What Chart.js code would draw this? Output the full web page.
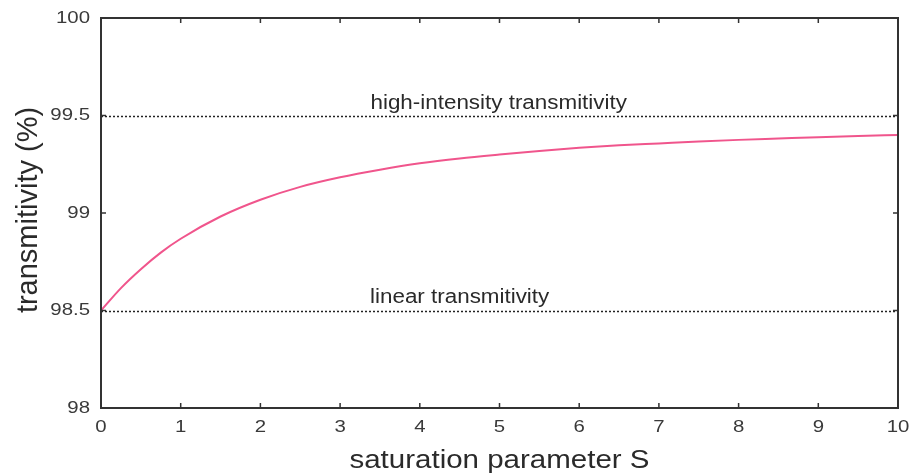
<!DOCTYPE html>
<html>
<head>
<meta charset="utf-8">
<script src="https://cdn.jsdelivr.net/npm/chart.js@4.4.1/dist/chart.umd.min.js"></script>
<style>
html,body{margin:0;padding:0;background:#fff;}
#wrap{width:910px;height:476px;position:relative;}
</style>
</head>
<body>
<div id="wrap"><canvas id="c" width="910" height="476"></canvas></div>
<script>
// Data
const saturationS = [0, 0.25, 0.5, 0.75, 1, 1.5, 2, 2.5, 3, 3.5, 4, 4.5, 5, 5.5, 6, 6.5, 7, 7.5, 8, 8.5, 9, 9.5, 10];
const transmitivity = [98.50, 98.615, 98.712, 98.797, 98.868, 98.982, 99.068, 99.134, 99.183, 99.222, 99.255, 99.28, 99.30, 99.318, 99.334, 99.347, 99.357, 99.367, 99.375, 99.382, 99.389, 99.395, 99.40];
const highIntensityLevel = 99.5;
const linearLevel = 98.5;
const referenceLabels = ["high-intensity transmitivity", "linear transmitivity"];
const referenceLabelX = [4.99, 4.50];
const xTicks = [0, 1, 2, 3, 4, 5, 6, 7, 8, 9, 10];
const yTicks = [98, 98.5, 99, 99.5, 100];
const yTickLabels = ["98", "98.5", "99", "99.5", "100"];
const xTitle = "saturation parameter S";
const yTitle = "transmitivity (%)";

const FONT = "'Liberation Sans', Arial, sans-serif";

function stretchedText(ctx, text, x, y, size, sx, align, baseline) {
  ctx.save();
  ctx.font = size + 'px ' + FONT;
  ctx.textAlign = align;
  ctx.textBaseline = baseline;
  ctx.translate(x, y);
  ctx.scale(sx, 1);
  ctx.fillText(text, 0, 0);
  ctx.restore();
}

const boxPlugin = {
  id: 'boxPlugin',
  afterDatasetsDraw(chart) {
    const {ctx, chartArea: a, scales: {x, y}} = chart;
    ctx.save();
    // reference dotted lines
    ctx.strokeStyle = '#222';
    ctx.lineWidth = 1.5;
    ctx.setLineDash([2, 2]);
    [highIntensityLevel, linearLevel].forEach(v => {
      const py = Math.round(y.getPixelForValue(v)) + 0.5;
      ctx.beginPath();
      ctx.moveTo(a.left, py);
      ctx.lineTo(a.right, py);
      ctx.stroke();
    });
    ctx.setLineDash([]);
    ctx.fillStyle = '#2a2a2a';
    // labels above reference lines
    stretchedText(ctx, referenceLabels[0], x.getPixelForValue(referenceLabelX[0]), y.getPixelForValue(highIntensityLevel) - 7, 20, 1.12, 'center', 'alphabetic');
    stretchedText(ctx, referenceLabels[1], x.getPixelForValue(referenceLabelX[1]), y.getPixelForValue(linearLevel) - 8, 20, 1.12, 'center', 'alphabetic');
    // frame
    ctx.strokeStyle = '#333';
    ctx.lineWidth = 2;
    ctx.strokeRect(a.left, a.top, a.right - a.left, a.bottom - a.top);
    // inward ticks
    ctx.lineWidth = 1.5;
    xTicks.forEach(v => {
      const px = x.getPixelForValue(v);
      ctx.beginPath();
      ctx.moveTo(px, a.bottom); ctx.lineTo(px, a.bottom - 5);
      ctx.moveTo(px, a.top); ctx.lineTo(px, a.top + 5);
      ctx.stroke();
    });
    yTicks.forEach(v => {
      const py = y.getPixelForValue(v);
      ctx.beginPath();
      ctx.moveTo(a.left, py); ctx.lineTo(a.left + 5, py);
      ctx.moveTo(a.right, py); ctx.lineTo(a.right - 5, py);
      ctx.stroke();
    });
    // tick labels
    ctx.fillStyle = '#3a3a3a';
    xTicks.forEach(v => {
      stretchedText(ctx, String(v), x.getPixelForValue(v), a.bottom + 19, 17, 1.2, 'center', 'middle');
    });
    yTicks.forEach((v, i) => {
      stretchedText(ctx, yTickLabels[i], a.left - 11, y.getPixelForValue(v), 17, 1.2, 'right', 'middle');
    });
    // axis titles
    ctx.fillStyle = '#2a2a2a';
    stretchedText(ctx, xTitle, (a.left + a.right) / 2, 468, 25, 1.18, 'center', 'alphabetic');
    ctx.save();
    ctx.translate(29, 210);
    ctx.rotate(-Math.PI / 2);
    ctx.font = '29px ' + FONT;
    ctx.textAlign = 'center';
    ctx.textBaseline = 'middle';
    ctx.fillText(yTitle, 0, 0);
    ctx.restore();
    ctx.restore();
  }
};

new Chart(document.getElementById('c'), {
  type: 'line',
  data: {
    datasets: [{
      data: saturationS.map((s, i) => ({x: s, y: transmitivity[i]})),
      borderColor: '#f0558c',
      borderWidth: 2,
      pointRadius: 0,
      cubicInterpolationMode: 'monotone',
      fill: false
    }]
  },
  options: {
    responsive: false,
    animation: false,
    devicePixelRatio: 1,
    layout: {padding: {top: 18, right: 12, left: 0, bottom: 0}},
    plugins: {legend: {display: false}, tooltip: {enabled: false}},
    scales: {
      x: {
        type: 'linear', min: 0, max: 10,
        afterBuildTicks: s => { s.ticks = xTicks.map(v => ({value: v})); },
        afterFit: s => { s.height = 68; },
        grid: {display: false},
        border: {display: false},
        ticks: {display: false}
      },
      y: {
        type: 'linear', min: 98, max: 100,
        afterBuildTicks: s => { s.ticks = yTicks.map(v => ({value: v})); },
        afterFit: s => { s.width = 101; },
        grid: {display: false},
        border: {display: false},
        ticks: {display: false}
      }
    }
  },
  plugins: [boxPlugin]
});
</script>
</body>
</html>
